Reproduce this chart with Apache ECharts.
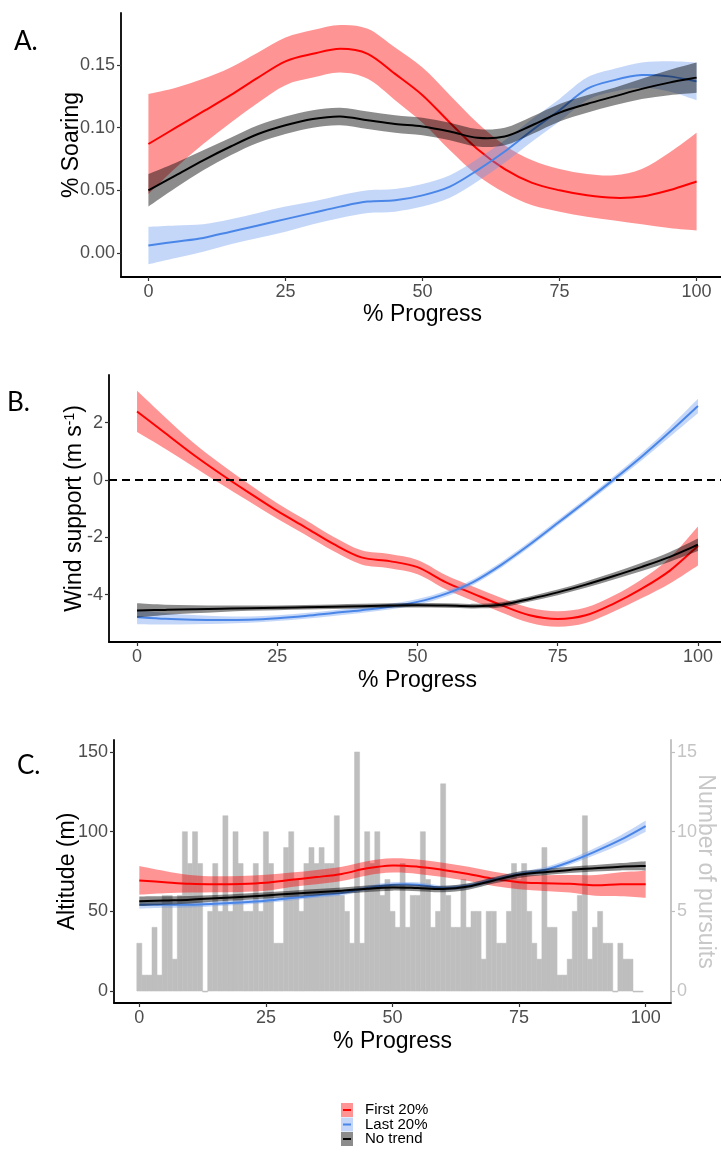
<!DOCTYPE html>
<html><head><meta charset="utf-8">
<script src="https://cdn.jsdelivr.net/npm/echarts@6/dist/echarts.min.js"></script>
<style>html,body{margin:0;padding:0;background:#fff}#c{width:721px;height:1154px}</style>
</head><body><div id="c"></div>
<script>
// ---------- data ----------
const progress = [0,5,10,15,20,25,30,35,40,45,50,55,60,65,70,75,80,85,90,95,100];
const progressTicks = [0,25,50,75,100];
const soarTicks = [0,0.05,0.10,0.15];
const windTicks = [-4,-2,0,2];
const altTicks = [0,50,100,150];
const pursuitTicks = [0,5,10,15];
const groups = ['First 20%','Last 20%','No trend'];

// Panel A: % soaring (smooth fit, half width of ribbon)
const soarFirst   = [0.087,0.100,0.113,0.126,0.140,0.153,0.159,0.163,0.159,0.143,0.126,0.104,0.083,0.067,0.056,0.050,0.046,0.044,0.045,0.050,0.057];
const soarFirstSE = [0.040,0.032,0.026,0.022,0.020,0.019,0.019,0.019,0.020,0.021,0.022,0.022,0.021,0.019,0.018,0.017,0.017,0.018,0.022,0.030,0.039];
const soarLast    = [0.006,0.009,0.012,0.017,0.022,0.027,0.032,0.037,0.041,0.042,0.046,0.053,0.066,0.081,0.098,0.114,0.131,0.138,0.142,0.141,0.137];
const soarLastSE  = [0.015,0.013,0.011,0.010,0.010,0.010,0.009,0.009,0.009,0.009,0.009,0.009,0.009,0.009,0.009,0.009,0.009,0.009,0.010,0.012,0.015];
const soarNone    = [0.050,0.062,0.074,0.085,0.095,0.102,0.107,0.109,0.106,0.103,0.101,0.097,0.092,0.093,0.102,0.112,0.119,0.125,0.131,0.136,0.140];
const soarNoneSE  = [0.013,0.010,0.008,0.007,0.007,0.007,0.007,0.007,0.007,0.007,0.007,0.007,0.007,0.007,0.007,0.007,0.007,0.007,0.008,0.010,0.012];

// Panel B: wind support
const windFirst   = [2.39,1.64,0.89,0.20,-0.45,-1.08,-1.65,-2.23,-2.70,-2.83,-3.04,-3.56,-3.97,-4.37,-4.72,-4.85,-4.72,-4.31,-3.79,-3.16,-2.30];
const windFirstSE = [0.72,0.55,0.42,0.35,0.30,0.27,0.26,0.25,0.25,0.25,0.25,0.25,0.25,0.25,0.26,0.27,0.27,0.28,0.33,0.45,0.68];
const windLast    = [-4.78,-4.84,-4.87,-4.88,-4.87,-4.82,-4.74,-4.64,-4.54,-4.42,-4.25,-3.97,-3.55,-2.95,-2.25,-1.50,-0.75,0.02,0.82,1.68,2.58];
const windLastSE  = [0.25,0.20,0.16,0.13,0.11,0.10,0.10,0.10,0.10,0.10,0.10,0.10,0.10,0.10,0.10,0.10,0.10,0.11,0.13,0.17,0.25];
const windNone    = [-4.55,-4.53,-4.51,-4.49,-4.47,-4.46,-4.44,-4.42,-4.40,-4.38,-4.37,-4.38,-4.40,-4.35,-4.15,-3.92,-3.65,-3.35,-3.03,-2.68,-2.26];
const windNoneSE  = [0.25,0.18,0.14,0.11,0.09,0.08,0.08,0.08,0.08,0.08,0.08,0.08,0.08,0.09,0.09,0.10,0.11,0.12,0.14,0.17,0.22];

// Panel C: altitude
const altFirst   = [69.4,68.3,67.3,67.0,67.2,68.0,69.8,71.5,73.5,77.0,78.8,78.0,76.0,73.5,70.4,68.3,67.7,67.3,66.3,67.0,67.0];
const altFirstSE = [9,7,5.5,5,5,5,4.5,4.5,4.5,4.5,4.5,4.5,4.5,4.5,4.5,4.5,5,5.5,6.5,7.5,8.5];
const altLast    = [54.2,54.2,54.2,54.8,55.6,56.7,58.3,60.0,61.5,64.6,66.7,66.7,64.6,66.0,69.8,73.3,76.0,81.0,87.5,94.8,103.5];
const altLastSE  = [2.5,2,1.8,1.6,1.5,1.5,1.5,1.5,1.5,1.5,1.5,1.5,1.5,1.5,1.5,1.5,1.6,1.8,2.2,2.8,3.5];
const altNone    = [56.3,56.8,57.3,58.2,59.0,60.0,61.0,62.0,63.0,64.2,65.0,64.6,64.0,65.6,69.4,73.0,74.6,76.0,77.0,78.0,78.5];
const altNoneSE  = [3,2.6,2.3,2,2,2,2,2,2,2,2,2,2,2,2,2,2,2,2,2.3,3];

// Panel C: number of pursuits per 1% progress bin (bins 0..99)
const pursuits = [3,1,1,4,1,6,6,2,6,10, 8,10,8,0,5,8,5,11,5,10, 8,5,5,8,5,10,8,3,3,9,
                  10,7,5,8,9,8,9,8,8,11, 6,5,3,15,3,10,8,10,6,7, 5,4,8,4,6,6,10,7,4,5,
                  13,6,4,4,7,4,5,5,2,5, 5,3,3,5,8,7,8,5,3,2, 9,4,4,1,1,2,5,6,11,2,
                  4,5,3,3,0,3,2,2,0,0];

// ---------- style ----------
const FONT = "'Liberation Sans', Arial, Helvetica, sans-serif";
const LINE = ['#ff0000','#4a86e8','#000000'];
const FILL = ['rgba(255,0,0,0.42)','rgba(100,149,237,0.38)','rgba(0,0,0,0.45)'];

// Catmull-Rom -> cubic bezier path segments through pixel points
function curvePath(pts, start) {
  let d = start ? ('M' + pts[0][0] + ' ' + pts[0][1]) : ('L' + pts[0][0] + ' ' + pts[0][1]);
  const n = pts.length;
  for (let i = 0; i < n - 1; i++) {
    const p0 = pts[Math.max(i-1,0)], p1 = pts[i], p2 = pts[i+1], p3 = pts[Math.min(i+2,n-1)];
    const c1 = [p1[0] + (p2[0]-p0[0])/6, p1[1] + (p2[1]-p0[1])/6];
    const c2 = [p2[0] - (p3[0]-p1[0])/6, p2[1] - (p3[1]-p1[1])/6];
    d += ' C' + c1[0] + ' ' + c1[1] + ' ' + c2[0] + ' ' + c2[1] + ' ' + p2[0] + ' ' + p2[1];
  }
  return d;
}

function bandSeries(gi, yi, mean, se, idx) {
  return {type:'custom', xAxisIndex:gi, yAxisIndex:yi, silent:true, clip:true,
    data:[[progress[0], mean[0]]],
    renderItem:function(params, api){
      const up = progress.map((x,i)=>api.coord([x, mean[i]+se[i]]));
      const lo = progress.map((x,i)=>api.coord([x, mean[i]-se[i]])).reverse();
      const d = curvePath(up, true) + ' ' + curvePath(lo, false) + ' Z';
      return {type:'path', shape:{pathData:d}, style:{fill:FILL[idx], stroke:null}};
    }};
}
function lineSeries(gi, yi, mean, idx) {
  return {type:'custom', xAxisIndex:gi, yAxisIndex:yi, silent:true, clip:true,
    data:[[progress[0], mean[0]]],
    renderItem:function(params, api){
      const pts = progress.map((x,i)=>api.coord([x, mean[i]]));
      return {type:'path', shape:{pathData:curvePath(pts, true)},
        style:{fill:null, stroke:LINE[idx], lineWidth:2, lineJoin:'round'}};
    }};
}

function xAx(gi, gap) {
  return {type:'value', gridIndex:gi, min:-5, max:105,
    axisLine:{show:true, onZero:false, lineStyle:{color:'#000', width:1.8}},
    axisTick:{show:true, customValues:progressTicks, length:4, lineStyle:{color:'#333', width:1.2}},
    axisLabel:{customValues:progressTicks, color:'#4d4d4d', fontSize:18, fontFamily:FONT, margin:6},
    splitLine:{show:false},
    name:'% Progress', nameLocation:'middle', nameGap:gap, nameMoveOverlap:false,
    nameTextStyle:{fontSize:23, color:'#000', fontFamily:FONT}};
}
function yAx(gi, min, max, ticks, fmt, name, gap, extra) {
  const o = {type:'value', gridIndex:gi, min:min, max:max,
    axisLine:{show:true, onZero:false, lineStyle:{color:'#000', width:1.8}},
    axisTick:{show:true, customValues:ticks, length:4, lineStyle:{color:'#333', width:1.2}},
    axisLabel:{customValues:ticks, formatter:fmt, color:'#4d4d4d', fontSize:18, fontFamily:FONT, margin:6},
    splitLine:{show:false},
    name:name, nameLocation:'middle', nameRotate:90, nameGap:gap, nameMoveOverlap:false,
    nameTextStyle:{fontSize:23, color:'#000', fontFamily:FONT}};
  return Object.assign(o, extra || {});
}

const series = [];
// Panel C histogram first (behind)
series.push({type:'custom', xAxisIndex:2, yAxisIndex:3, silent:true,
  data: pursuits.map((c,k)=>[k,c]),
  renderItem:function(params, api){
    const k = api.value(0), c = api.value(1);
    const p0 = api.coord([k-0.5, c]);
    const p1 = api.coord([k+0.5, 0]);
    return {type:'rect', shape:{x:p0[0], y:p0[1], width:p1[0]-p0[0], height:Math.max(p1[1]-p0[1],1)},
      style:{fill:'#bebebe', stroke:'#bebebe', lineWidth:0.5}};
  }});

const panels = [
  [0,0,[[soarFirst,soarFirstSE],[soarLast,soarLastSE],[soarNone,soarNoneSE]]],
  [1,1,[[windFirst,windFirstSE],[windLast,windLastSE],[windNone,windNoneSE]]],
  [2,2,[[altFirst,altFirstSE],[altLast,altLastSE],[altNone,altNoneSE]]]
];
panels.forEach(p=>{
  p[2].forEach((d,i)=>{
    series.push(bandSeries(p[0],p[1],d[0],d[1],i));
    series.push(lineSeries(p[0],p[1],d[0],i));
  });
});

// dashed zero line in panel B
series.push({type:'line', xAxisIndex:1, yAxisIndex:1, data:[], silent:true,
  markLine:{silent:true, symbol:'none', label:{show:false},
    lineStyle:{type:[8,5], color:'#000', width:2}, data:[{yAxis:0}]}});

// legend (drawn keys)
const graphic = [];
groups.forEach((g,i)=>{
  const cy = 1110 + 14.5*i;
  graphic.push({type:'rect', shape:{x:341, y:cy-7, width:12, height:14}, style:{fill:FILL[i]}});
  graphic.push({type:'line', shape:{x1:343, y1:cy, x2:351, y2:cy}, style:{stroke:LINE[i], lineWidth:2}});
  graphic.push({type:'text', style:{x:365, y:cy, text:g, font:'15px ' + FONT, fill:'#000', verticalAlign:'middle'}});
});
graphic.push({type:'text', style:{x:14, y:42, text:'A.', font:'26px Lato, sans-serif', fill:'#000', verticalAlign:'middle'}});
graphic.push({type:'text', style:{x:7, y:403, text:'B.', font:'26px Lato, sans-serif', fill:'#000', verticalAlign:'middle'}});
graphic.push({type:'text', style:{x:17, y:766, text:'C.', font:'26px Lato, sans-serif', fill:'#000', verticalAlign:'middle'}});

const option = {
  animation:false,
  backgroundColor:'#fff',
  grid:[
    {left:121, top:13, width:603, height:264, outerBoundsMode:'none'},
    {left:109, top:375, width:617, height:267, outerBoundsMode:'none'},
    {left:114, top:740, width:557, height:263, outerBoundsMode:'none'}
  ],
  xAxis:[xAx(0,26), xAx(1,27), xAx(2,27)],
  yAxis:[
    yAx(0, -0.0192, 0.1916, soarTicks, v=>v.toFixed(2), '% Soaring', 38),
    yAx(1, -5.65, 3.66, windTicks, v=>String(v), '{t|Wind support (m s}{s|-1}{t|)}', 23,
      {nameTextStyle:{fontSize:23, color:'#000', fontFamily:FONT,
        rich:{t:{fontSize:23, color:'#000', fontFamily:FONT}, s:{fontSize:14, color:'#000', fontFamily:FONT, verticalAlign:'top'}}}}),
    yAx(2, -7.5, 157.5, altTicks, v=>String(v), 'Altitude (m)', 35),
    yAx(2, -0.75, 15.75, pursuitTicks, v=>String(v), 'Number of pursuits', 23,
      {position:'right', nameRotate:-90,
       axisLine:{show:true, onZero:false, lineStyle:{color:'#bebebe', width:1.8}},
       axisTick:{show:true, customValues:pursuitTicks, length:4, lineStyle:{color:'#bebebe', width:1.2}},
       axisLabel:{customValues:pursuitTicks, color:'#c4c4c4', fontSize:18, fontFamily:FONT, margin:6},
       nameTextStyle:{fontSize:23, color:'#c8c8c8', fontFamily:FONT}})
  ],
  series:series,
  graphic:graphic
};
const chart = echarts.init(document.getElementById('c'), null, {renderer:'canvas'});
chart.setOption(option);
</script>
</body></html>
